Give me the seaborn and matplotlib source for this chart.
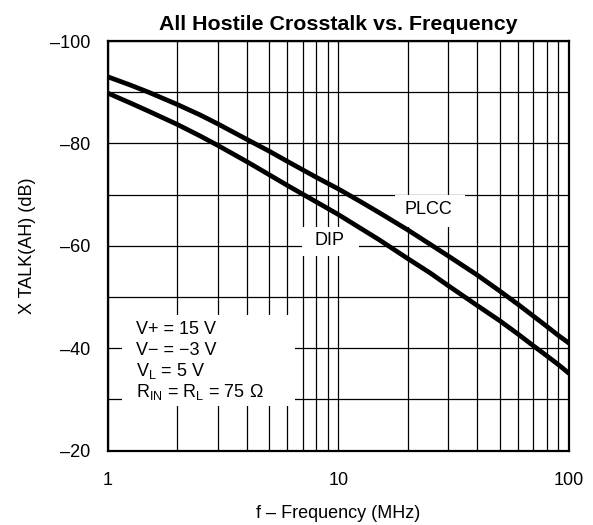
import matplotlib
matplotlib.use("Agg")
import matplotlib.pyplot as plt
import pandas as pd
import seaborn as sns
from matplotlib.patches import Rectangle
from matplotlib.ticker import FixedLocator, NullFormatter

# values
freq_mhz = [1, 1.25, 1.5, 2, 2.5, 3, 4, 5, 6, 8, 10, 12.5, 15, 20, 25, 30,
            40, 50, 60, 70, 80, 90, 100]
plcc_db = [-93.0, -91.4, -90.0, -87.6, -85.6, -83.8, -80.8, -78.5, -76.5,
           -73.4, -71.1, -68.6, -66.5, -63.1, -60.3, -58.0, -54.3, -51.2,
           -48.6, -46.3, -44.3, -42.5, -41.0]
dip_db = [-89.8, -87.9, -86.3, -83.7, -81.5, -79.6, -76.45, -73.9, -71.8,
          -68.6, -66.1, -63.4, -61.2, -57.5, -54.7, -52.2, -48.35, -45.4,
          -42.8, -40.5, -38.55, -36.8, -35.1]

y_major = [-100, -80, -60, -40, -20]
y_minor = [-90, -70, -50, -30]
x_major = [1, 10, 100]
x_minor = [2, 3, 4, 5, 6, 7, 8, 9, 20, 30, 40, 50, 60, 70, 80, 90]

conditions = ["V+ = 15 V", "V\u2212 = \u22123 V", r"V$_\mathregular{L}$ = 5 V",
              r"R$_\mathregular{IN}$ = R$_\mathregular{L}$ = 75 " + "\u03a9"]

sns.set_style("white")
plt.rcParams["font.family"] = ["Liberation Sans", "DejaVu Sans"]
plt.rcParams["mathtext.default"] = "regular"
for key in ["text.color", "axes.labelcolor", "xtick.color", "ytick.color"]:
    plt.rcParams[key] = "black"

df = pd.concat([
    pd.DataFrame({"freq": freq_mhz, "xtalk": plcc_db, "package": "PLCC"}),
    pd.DataFrame({"freq": freq_mhz, "xtalk": dip_db, "package": "DIP"}),
])

fig = plt.figure(figsize=(5.93, 5.25), dpi=100)
ax = fig.add_axes([0.1821, 0.1415, 0.7774, 0.7804])

for pkg in ["PLCC", "DIP"]:
    sns.lineplot(data=df[df["package"] == pkg], x="freq", y="xtalk",
                 color="black", linewidth=3.4, ax=ax, zorder=3,
                 solid_capstyle="round", solid_joinstyle="round")

ax.set_xscale("log")
ax.set_xlim(1, 100)
ax.set_ylim(-20, -100)
ax.xaxis.set_major_locator(FixedLocator(x_major))
ax.xaxis.set_minor_locator(FixedLocator(x_minor))
ax.xaxis.set_minor_formatter(NullFormatter())
ax.set_xticklabels([str(v) for v in x_major])
ax.yaxis.set_major_locator(FixedLocator(y_major))
ax.yaxis.set_minor_locator(FixedLocator(y_minor))
ax.set_yticklabels([f"\u2013{abs(v)}" for v in y_major])

ax.set_axisbelow(True)
ax.grid(True, which="both", color="black", linewidth=0.9)
ax.tick_params(axis="both", which="both", length=0, labelsize=13)
ax.tick_params(axis="x", pad=15)
ax.tick_params(axis="y", pad=13)
for sp in ax.spines.values():
    sp.set_linewidth(1.6)
    sp.set_color("black")

# white patches behind the labels
for x0, y0, w, h in [(0.0297, 0.109, 0.375, 0.222),
                     (0.420, 0.475, 0.124, 0.072),
                     (0.622, 0.547, 0.152, 0.077)]:
    ax.add_patch(Rectangle((x0, y0), w, h, transform=ax.transAxes,
                           facecolor="white", edgecolor="none", zorder=1))

ax.text(24.6, -67.1, "PLCC", fontsize=13, ha="center", va="center", zorder=4)
ax.text(9.17, -61.0, "DIP", fontsize=13, ha="center", va="center", zorder=4)
for i, line in enumerate(conditions):
    ax.text(0.061, 0.2955 - i * 0.0508, line, transform=ax.transAxes,
            fontsize=13, ha="left", va="center", zorder=4)

ax.set_title("All Hostile Crosstalk vs. Frequency", fontsize=15.4,
             fontweight="bold", pad=8)
ax.set_xlabel("f \u2013 Frequency (MHz)", fontsize=13, labelpad=12)
ax.set_ylabel("X TALK(AH) (dB)", fontsize=13, labelpad=10)

fig.savefig("out.png", dpi=100)
